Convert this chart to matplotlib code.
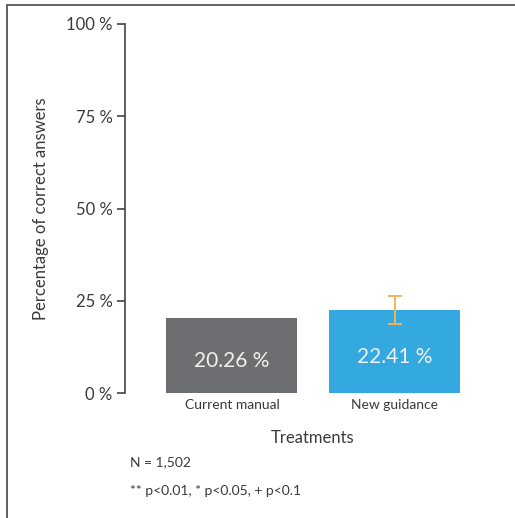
import matplotlib
matplotlib.use("Agg")
import matplotlib.pyplot as plt
from matplotlib.patches import Rectangle

plt.rcParams['font.family'] = ['Lato', 'DejaVu Sans']

treatments = ['Current manual', 'New guidance']
values = [20.26, 22.41]
err_low = [None, 18.7]
err_high = [None, 26.4]
colors = ['#6d6e71', '#33a9e0']
yticks = [0, 25, 50, 75, 100]

fig = plt.figure(figsize=(5.15, 5.18), dpi=100)

# outer frame (cut off on right and bottom)
fig.patches.append(Rectangle((7 / 515, -0.1), 1.2, (518 - 5) / 518 + 0.1,
                             transform=fig.transFigure, fill=False,
                             edgecolor='#555555', linewidth=1.3))

ax = fig.add_axes([125 / 515, (518 - 393) / 518, 365 / 515, (393 - 24) / 518])
x = list(range(len(treatments)))
ax.bar(x, values, width=0.804, color=colors, zorder=2)

for i, v in enumerate(values):
    ax.text(i, v / 2 - 1.4, f'{v:.2f} %', ha='center', va='center',
            color='#f0f0f0', fontsize=15)
    if err_low[i] is not None:
        ax.errorbar(i, (err_low[i] + err_high[i]) / 2,
                    yerr=(err_high[i] - err_low[i]) / 2,
                    fmt='none', ecolor='#f2b35a', elinewidth=1.4,
                    capsize=5, capthick=1.4, zorder=3)

ax.set_xlim(-0.656, 1.583)
ax.set_ylim(0, 100)
ax.set_yticks(yticks)
ax.set_yticklabels([f'{t} %' for t in yticks], fontsize=12, color='#3a3a3a')
ax.set_xticks(x)
ax.set_xticklabels(treatments, fontsize=10, color='#3a3a3a')
ax.tick_params(axis='x', length=0, pad=4)
ax.tick_params(axis='y', length=6, width=1.2, color='#444444', pad=3)
for s in ['top', 'right', 'bottom']:
    ax.spines[s].set_visible(False)
ax.spines['left'].set_color('#444444')
ax.spines['left'].set_linewidth(1.2)

ax.set_ylabel('Percentage of correct answers', fontsize=12, color='#3a3a3a', labelpad=12)
fig.text(313 / 515, 1 - 438 / 518, 'Treatments', ha='center', va='center',
         fontsize=12, color='#3a3a3a')
fig.text(130 / 515, 1 - 462 / 518, 'N = 1,502', ha='left', va='center',
         fontsize=10, color='#3a3a3a')
fig.text(130 / 515, 1 - 491 / 518, '** p<0.01, * p<0.05, + p<0.1', ha='left',
         va='center', fontsize=10, color='#3a3a3a')

fig.savefig('out.png', dpi=100)
